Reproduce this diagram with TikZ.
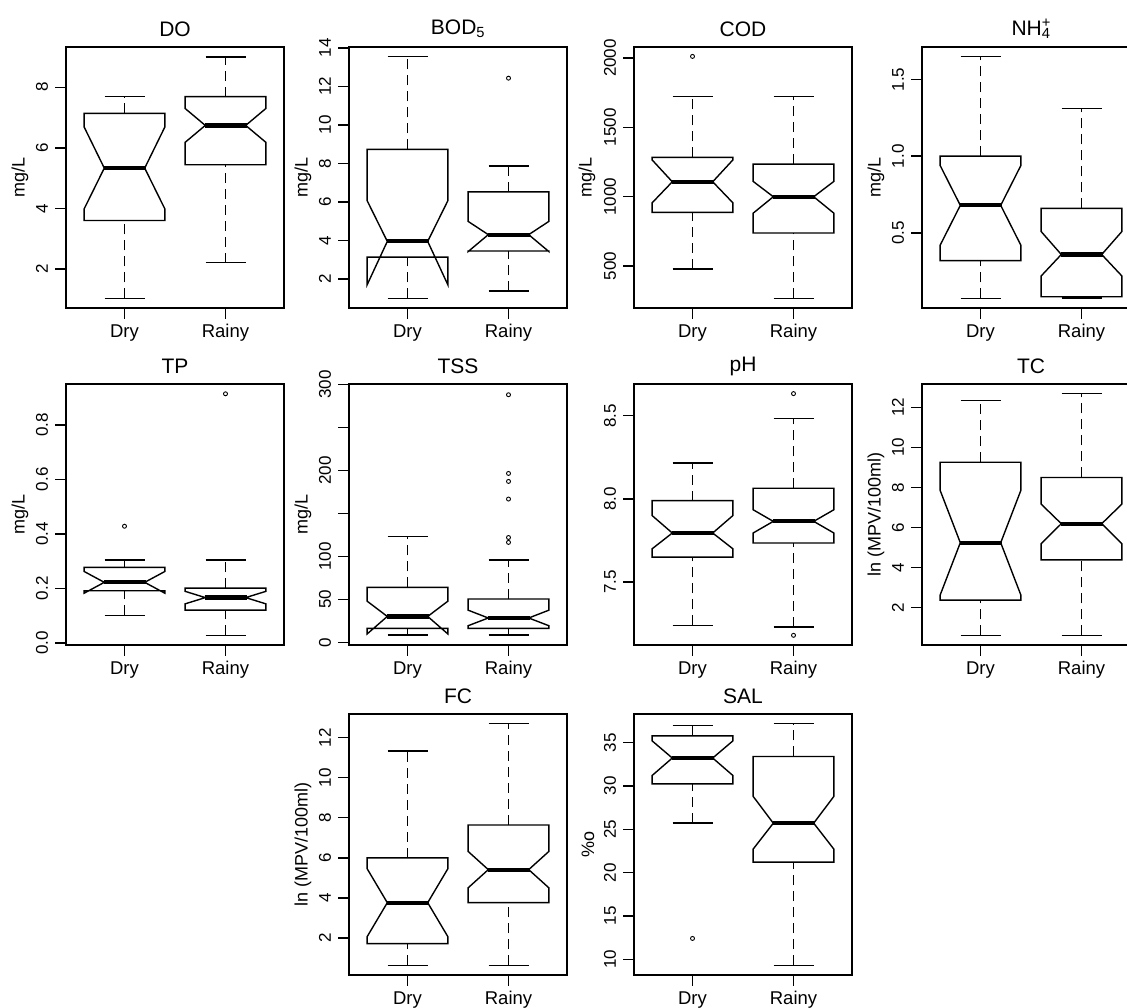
\documentclass[tikz,border=0pt]{standalone}
\usepackage{fontspec}
\setmainfont{Liberation Sans}

% one notched box: centre, low whisker, Q1, notch low, median, notch high, Q3, high whisker
\newcommand{\nbox}[8]{%
  \draw [whisk] (#1,#2) -- (#1,#3) (#1,#7) -- (#1,#8);
  \draw [boxline] (#1-20,#2) -- (#1+20,#2) (#1-20,#8) -- (#1+20,#8);
  \draw [boxline] (#1-40.4,#3) -- (#1-40.4,#4) -- (#1-20.2,#5) -- (#1-40.4,#6)
    -- (#1-40.4,#7) -- (#1+40.4,#7) -- (#1+40.4,#6) -- (#1+20.2,#5)
    -- (#1+40.4,#4) -- (#1+40.4,#3) -- cycle;
  \draw [medline] (#1-21,#5) -- (#1+21,#5);
}

% frame, x axis and title of one panel: name, ymin, ymax, title
\newcommand{\pframe}[4]{%
  \draw [frame] (0,#2) rectangle (218,#3);
  \draw [tick] (58.5,#2) -- ++(0,-11pt) (159.5,#2) -- ++(0,-11pt);
  \node [xlab] (#1-dry) at (58.5,#2) {Dry};
  \node [xlab] (#1-rainy) at (159.5,#2) {Rainy};
  \node [ptitle] (#1-title) at (109,#3) {#4};
}

\begin{document}
\begin{tikzpicture}
  [
    x=1pt, y=1pt,
    frame/.style = {line width=1.6pt},
    tick/.style = {line width=1.4pt},
    boxline/.style = {line width=1.4pt, line join=miter},
    whisk/.style = {line width=1.4pt, dash pattern=on 10pt off 6pt},
    medline/.style = {line width=4.2pt},
    outl/.style = {line width=0.9pt},
    ptitle/.style = {font=\fontsize{21}{21}\selectfont, yshift=18pt},
    xlab/.style = {font=\fontsize{18.5}{18.5}\selectfont, yshift=-25pt},
    ylab/.style = {font=\fontsize{18}{18}\selectfont, rotate=90},
    tlab/.style = {font=\fontsize{17}{17}\selectfont, rotate=90},
    panel/.style n args = {4}{shift={(#1,{#2-#3/(#4-#3)*261})}, y={261pt/(#4-#3)}}
  ]
  \useasboundingbox (0,0) rectangle (1127,1007);

  % DO
  \begin{scope}[panel={66}{699}{0.71}{9.33}]
    \pframe{do}{0.71}{9.33}{DO}
    \foreach \v [count=\i] in {2,4,6,8} {
      \draw [tick] (0,\v) -- ++(-11pt,0);
      \node [tlab] (do-t\i) at (-24,\v) {\v};
    }
    \node [ylab] (do-ylab) at (-46,5.02) {mg/L};
    \nbox{58.5}{1.03}{3.60}{3.98}{5.33}{6.69}{7.14}{7.69}
    \nbox{159.5}{2.21}{5.44}{6.18}{6.74}{7.30}{7.69}{9.00}
  \end{scope}

  % BOD5
  \begin{scope}[panel={349}{699}{0.49}{14.05}]
    \pframe{bod}{0.49}{14.05}{BOD\textsubscript{5}}
    \foreach \v [count=\i] in {2,4,...,14} {
      \draw [tick] (0,\v) -- ++(-11pt,0);
      \node [tlab] (bod-t\i) at (-24,\v) {\v};
    }
    \node [ylab] (bod-ylab) at (-46,7.27) {mg/L};
    \nbox{58.5}{0.99}{3.13}{1.69}{3.95}{6.07}{8.73}{13.55}
    \nbox{159.5}{1.37}{3.45}{3.42}{4.30}{4.99}{6.52}{7.86}
    \draw [outl] (159.5,12.43) circle (2pt);
  \end{scope}

  % COD
  \begin{scope}[panel={634}{699}{196}{2080}]
    \pframe{cod}{196}{2080}{COD}
    \foreach \v [count=\i] in {500,1000,1500,2000} {
      \draw [tick] (0,\v) -- ++(-11pt,0);
      \node [tlab] (cod-t\i) at (-24,\v) {\v};
    }
    \node [ylab] (cod-ylab) at (-47,1138) {mg/L};
    \nbox{58.5}{476}{886}{955}{1107}{1265}{1283}{1724}
    \nbox{159.5}{266}{737}{880}{999}{1110}{1234}{1724}
    \draw [outl] (58.5,2012) circle (2pt);
  \end{scope}

  % NH4+
  \begin{scope}[panel={922}{699}{0.012}{1.711}]
    \pframe{nh}{0.012}{1.711}{NH\rlap{\textsuperscript{+}}\textsubscript{4}}
    \foreach \v [count=\i] in {0.5,1.0,1.5} {
      \draw [tick] (0,\v) -- ++(-11pt,0);
      \node [tlab] (nh-t\i) at (-24,\v) {\v};
    }
    \node [ylab] (nh-ylab) at (-46,0.86) {mg/L};
    \nbox{58.5}{0.075}{0.32}{0.42}{0.68}{0.94}{1.00}{1.648}
    \nbox{159.5}{0.076}{0.085}{0.22}{0.36}{0.51}{0.66}{1.31}
  \end{scope}

  % TP
  \begin{scope}[panel={66}{362}{-0.008}{0.950}]
    \pframe{tp}{-0.008}{0.950}{TP}
    \foreach \v [count=\i] in {0.0,0.2,0.4,0.6,0.8} {
      \draw [tick] (0,\v) -- ++(-11pt,0);
      \node [tlab] (tp-t\i) at (-24,\v) {\v};
    }
    \node [ylab] (tp-ylab) at (-46,0.471) {mg/L};
    \nbox{58.5}{0.101}{0.191}{0.182}{0.222}{0.262}{0.277}{0.304}
    \nbox{159.5}{0.027}{0.120}{0.143}{0.166}{0.189}{0.201}{0.304}
    \draw [outl] (58.5,0.428) circle (2pt);
    \draw [outl] (159.5,0.914) circle (2pt);
  \end{scope}

  % TSS
  \begin{scope}[panel={349}{362}{-3}{300.5}]
    \pframe{tss}{-3}{300.5}{TSS}
    \foreach \v in {0,50,...,300}
      \draw [tick] (0,\v) -- ++(-11pt,0);
    \foreach \v [count=\i] in {0,50,100,200,300}
      \node [tlab] (tss-t\i) at (-24,\v) {\v};
    \node [ylab] (tss-ylab) at (-46,148.7) {mg/L};
    \nbox{58.5}{8.6}{16.3}{9.8}{30.2}{48}{64}{123}
    \nbox{159.5}{8.6}{16.3}{19.4}{28.4}{37.5}{50.5}{95.8}
    \foreach \o in {288,196.5,187.2,166.7,122,116.3}
      \draw [outl] (159.5,\o) circle (2pt);
  \end{scope}

  % pH
  \begin{scope}[panel={634}{362}{7.122}{8.691}]
    \pframe{ph}{7.122}{8.691}{pH}
    \foreach \v [count=\i] in {7.5,8.0,8.5} {
      \draw [tick] (0,\v) -- ++(-11pt,0);
      \node [tlab] (ph-t\i) at (-24,\v) {\v};
    }
    \nbox{58.5}{7.24}{7.65}{7.70}{7.795}{7.90}{7.99}{8.217}
    \nbox{159.5}{7.23}{7.735}{7.795}{7.865}{7.935}{8.064}{8.483}
    \draw [outl] (159.5,8.633) circle (2pt);
    \draw [outl] (159.5,7.18) circle (2pt);
  \end{scope}

  % TC
  \begin{scope}[panel={922}{362}{0.13}{13.17}]
    \pframe{tc}{0.13}{13.17}{TC}
    \foreach \v [count=\i] in {2,4,...,12} {
      \draw [tick] (0,\v) -- ++(-11pt,0);
      \node [tlab] (tc-t\i) at (-24,\v) {\v};
    }
    \node [ylab] (tc-ylab) at (-46,6.65) {ln (MPV/100ml)};
    \nbox{58.5}{0.61}{2.37}{2.62}{5.24}{7.86}{9.26}{12.35}
    \nbox{159.5}{0.61}{4.38}{5.19}{6.19}{7.17}{8.50}{12.69}
  \end{scope}

  % FC
  \begin{scope}[panel={349}{32}{0.15}{13.18}]
    \pframe{fc}{0.15}{13.18}{FC}
    \foreach \v [count=\i] in {2,4,...,12} {
      \draw [tick] (0,\v) -- ++(-11pt,0);
      \node [tlab] (fc-t\i) at (-24,\v) {\v};
    }
    \node [ylab] (fc-ylab) at (-46,6.66) {ln (MPV/100ml)};
    \nbox{58.5}{0.63}{1.72}{2.06}{3.76}{5.46}{6.00}{11.33}
    \nbox{159.5}{0.63}{3.76}{4.50}{5.41}{6.32}{7.64}{12.70}
  \end{scope}

  % SAL
  \begin{scope}[panel={634}{32}{8.18}{38.3}]
    \pframe{sal}{8.18}{38.3}{SAL}
    \foreach \v [count=\i] in {10,15,...,35} {
      \draw [tick] (0,\v) -- ++(-11pt,0);
      \node [tlab] (sal-t\i) at (-24,\v) {\v};
    }
    \node [ylab] (sal-ylab) at (-46,23.24) {\%o};
    \nbox{58.5}{25.7}{30.23}{31.2}{33.22}{35.2}{35.78}{37.0}
    \nbox{159.5}{9.30}{21.2}{22.7}{25.7}{28.8}{33.4}{37.2}
    \draw [outl] (58.5,12.4) circle (2pt);
  \end{scope}
\end{tikzpicture}
\end{document}
